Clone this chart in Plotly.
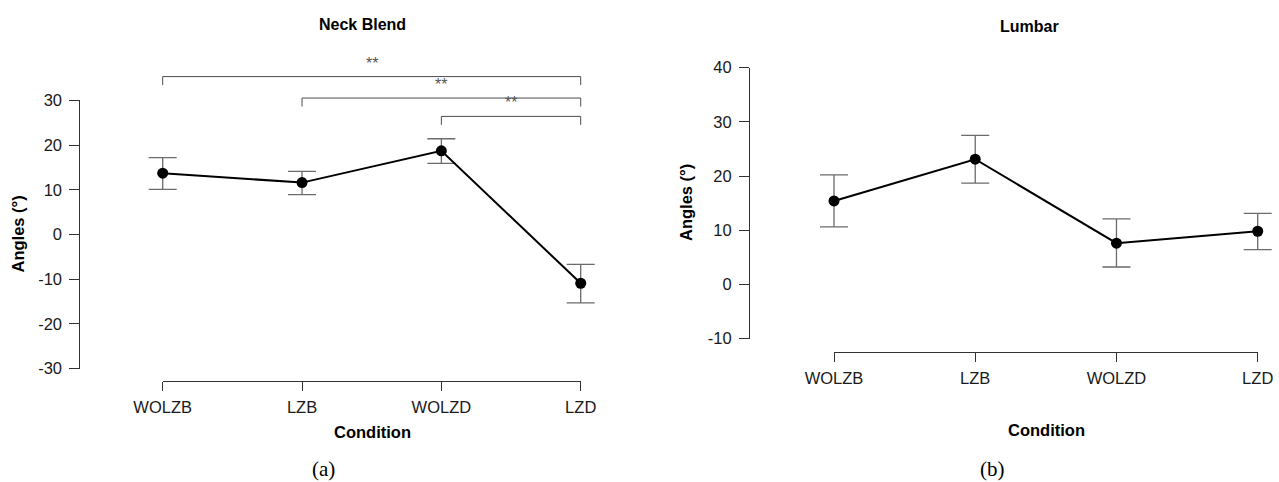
import plotly.graph_objects as go

# ---------------- data ----------------
categories = ["WOLZB", "LZB", "WOLZD", "LZD"]

neck_mean = [13.7, 11.6, 18.7, -10.9]
neck_upper = [17.2, 14.1, 21.4, -6.7]
neck_lower = [10.1, 8.9, 15.9, -15.3]

lumbar_mean = [15.4, 23.1, 7.6, 9.8]
lumbar_upper = [20.2, 27.5, 12.1, 13.1]
lumbar_lower = [10.6, 18.7, 3.2, 6.4]

# significance brackets for Neck Blend: (from, to, height, label)
neck_sig_from = [0, 1, 2]
neck_sig_to = [3, 3, 3]
neck_sig_height = [35.3, 30.5, 26.4]
neck_sig_label = ["**", "**", "**"]

neck_yticks = [-30, -20, -10, 0, 10, 20, 30]
lumbar_yticks = [-10, 0, 10, 20, 30, 40]

# ---------------- geometry (pixels in the 1279x482 window) ----------------
W, H = 1279, 482
FONT = "Liberation Sans, Arial, sans-serif"


def fx(p):
    return p / W


def fy(p):
    return 1 - p / H


def panel(xcat0, xcat1, ylo_px, yhi_px, ylo, yhi, xd0, xd1, yd_top, yd_bot):
    """Return data-axis ranges so that the hidden data axes share the scale
    of the visible (display) axes."""
    xu = (xcat1 - xcat0) / 3.0
    xr = [(xd0 - xcat0) / xu, (xd1 - xcat0) / xu]
    yu = (ylo_px - yhi_px) / (yhi - ylo)
    yr = [ylo - (yd_bot - ylo_px) / yu, yhi + (yhi_px - yd_top) / yu]
    return xr, yr


# left panel pixel layout
L = dict(xcat0=162.7, xcat1=580.7, ylo_px=368.7, yhi_px=100.3, ylo=-30, yhi=30,
         xd0=82, xd1=636, yd_top=45, yd_bot=395)
L_xaxis_px = 381.0
L_yaxis_px = 79.3
# right panel pixel layout
R = dict(xcat0=834.0, xcat1=1257.7, ylo_px=338.5, yhi_px=67.7, ylo=-10, yhi=40,
         xd0=752, xd1=1279, yd_top=45, yd_bot=365)
R_xaxis_px = 352.3
R_yaxis_px = 749.0

Lxr, Lyr = panel(**L)
Rxr, Ryr = panel(**R)

xs = list(range(len(categories)))

fig = go.Figure()

err_style = dict(type="data", symmetric=False, color="#6b6b6b", thickness=1.3, width=14)


def add_series(mean, upper, lower, xa, ya):
    fig.add_trace(go.Scatter(
        x=xs, y=mean, xaxis=xa, yaxis=ya, mode="lines+markers",
        line=dict(color="#000000", width=2),
        marker=dict(color="#000000", size=11),
        error_y=dict(array=[u - m for u, m in zip(upper, mean)],
                     arrayminus=[m - l for m, l in zip(mean, lower)], **err_style),
        showlegend=False, hoverinfo="skip"))


add_series(neck_mean, neck_upper, neck_lower, "x", "y")
add_series(lumbar_mean, lumbar_upper, lumbar_lower, "x2", "y2")

# significance brackets
tick_drop = 1.9
annotations = []
for a, b, h, lab in zip(neck_sig_from, neck_sig_to, neck_sig_height, neck_sig_label):
    fig.add_trace(go.Scatter(
        x=[a, a, b, b], y=[h - tick_drop, h, h, h - tick_drop], xaxis="x", yaxis="y",
        mode="lines", line=dict(color="#4d4d4d", width=1),
        showlegend=False, hoverinfo="skip"))
    annotations.append(dict(
        x=(a + b) / 2, y=h + 3.0, xref="x", yref="y", text=lab, showarrow=False,
        font=dict(family=FONT, size=16, color="#555555"),
        xanchor="center", yanchor="middle"))

# dummy traces so the display axes are drawn
fig.add_trace(go.Scatter(x=[None], y=[None], xaxis="x3", yaxis="y3",
                         showlegend=False, hoverinfo="skip"))
fig.add_trace(go.Scatter(x=[None], y=[None], xaxis="x4", yaxis="y4",
                         showlegend=False, hoverinfo="skip"))

hidden = dict(visible=False, showgrid=False, zeroline=False, fixedrange=True,
              automargin=False)

tickfont = dict(family=FONT, size=16.5, color="#1a1a1a")

disp_x = dict(range=[0, 3], tickmode="array", tickvals=xs, ticktext=categories,
              showline=True, linecolor="#333333", linewidth=1, ticks="outside",
              ticklen=9, tickwidth=1, tickcolor="#333333", showgrid=False,
              zeroline=False, tickfont=tickfont, anchor="free", fixedrange=True,
              ticklabelstandoff=2, automargin=False)
disp_y = dict(tickmode="array", showline=True, linecolor="#333333", linewidth=1,
              ticks="outside", ticklen=10, tickwidth=1, tickcolor="#333333",
              showgrid=False, zeroline=False, tickfont=tickfont, anchor="free",
              fixedrange=True, ticklabelstandoff=4, automargin=False)

fig.update_layout(
    template="none",
    width=W, height=H,
    margin=dict(l=0, r=0, t=0, b=0, pad=0, autoexpand=False),
    paper_bgcolor="white", plot_bgcolor="rgba(0,0,0,0)",
    showlegend=False,
    xaxis=dict(domain=[fx(L["xd0"]), fx(L["xd1"])], range=Lxr, anchor="y", **hidden),
    yaxis=dict(domain=[fy(L["yd_bot"]), fy(L["yd_top"])], range=Lyr, anchor="x", **hidden),
    xaxis2=dict(domain=[fx(R["xd0"]), fx(R["xd1"])], range=Rxr, anchor="y2", **hidden),
    yaxis2=dict(domain=[fy(R["yd_bot"]), fy(R["yd_top"])], range=Ryr, anchor="x2", **hidden),
    xaxis3=dict(domain=[fx(L["xcat0"]), fx(L["xcat1"])], position=fy(L_xaxis_px), **disp_x),
    yaxis3=dict(domain=[fy(L["ylo_px"]), fy(L["yhi_px"])], range=[-30, 30],
                tickvals=neck_yticks, ticktext=[str(v) for v in neck_yticks],
                position=fx(L_yaxis_px), **disp_y),
    xaxis4=dict(domain=[fx(R["xcat0"]), fx(R["xcat1"])], position=fy(R_xaxis_px), **disp_x),
    yaxis4=dict(domain=[fy(R["ylo_px"]), fy(R["yhi_px"])], range=[-10, 40],
                tickvals=lumbar_yticks, ticktext=[str(v) for v in lumbar_yticks],
                position=fx(R_yaxis_px), **disp_y),
)


def text_ann(text, px, py, size, bold=True, angle=0, family=FONT, color="#000000"):
    return dict(text=f"<b>{text}</b>" if bold else text, x=fx(px), y=fy(py),
                xref="paper", yref="paper", showarrow=False, textangle=angle,
                font=dict(family=family, size=size, color=color),
                xanchor="center", yanchor="middle")


annotations += [
    text_ann("Neck Blend", 362, 24, 16),
    text_ann("Lumbar", 1029, 26, 16),
    text_ann("Angles (°)", 17, 234.5, 16.5, angle=-90),
    text_ann("Angles (°)", 686, 203, 16.5, angle=-90),
    text_ann("Condition", 372, 432, 16.5),
    text_ann("Condition", 1046, 429.5, 16.5),
    text_ann("(a)", 324, 469, 21, bold=False, family="Liberation Serif, Times New Roman, serif"),
    text_ann("(b)", 992, 469, 21, bold=False, family="Liberation Serif, Times New Roman, serif"),
]
fig.update_layout(annotations=annotations)

# remove the default page margin so the figure fills the window exactly
fig.write_html("out.html",
               config={"displayModeBar": False},
               post_script="document.body.style.margin='0';document.body.style.overflow='hidden';")
